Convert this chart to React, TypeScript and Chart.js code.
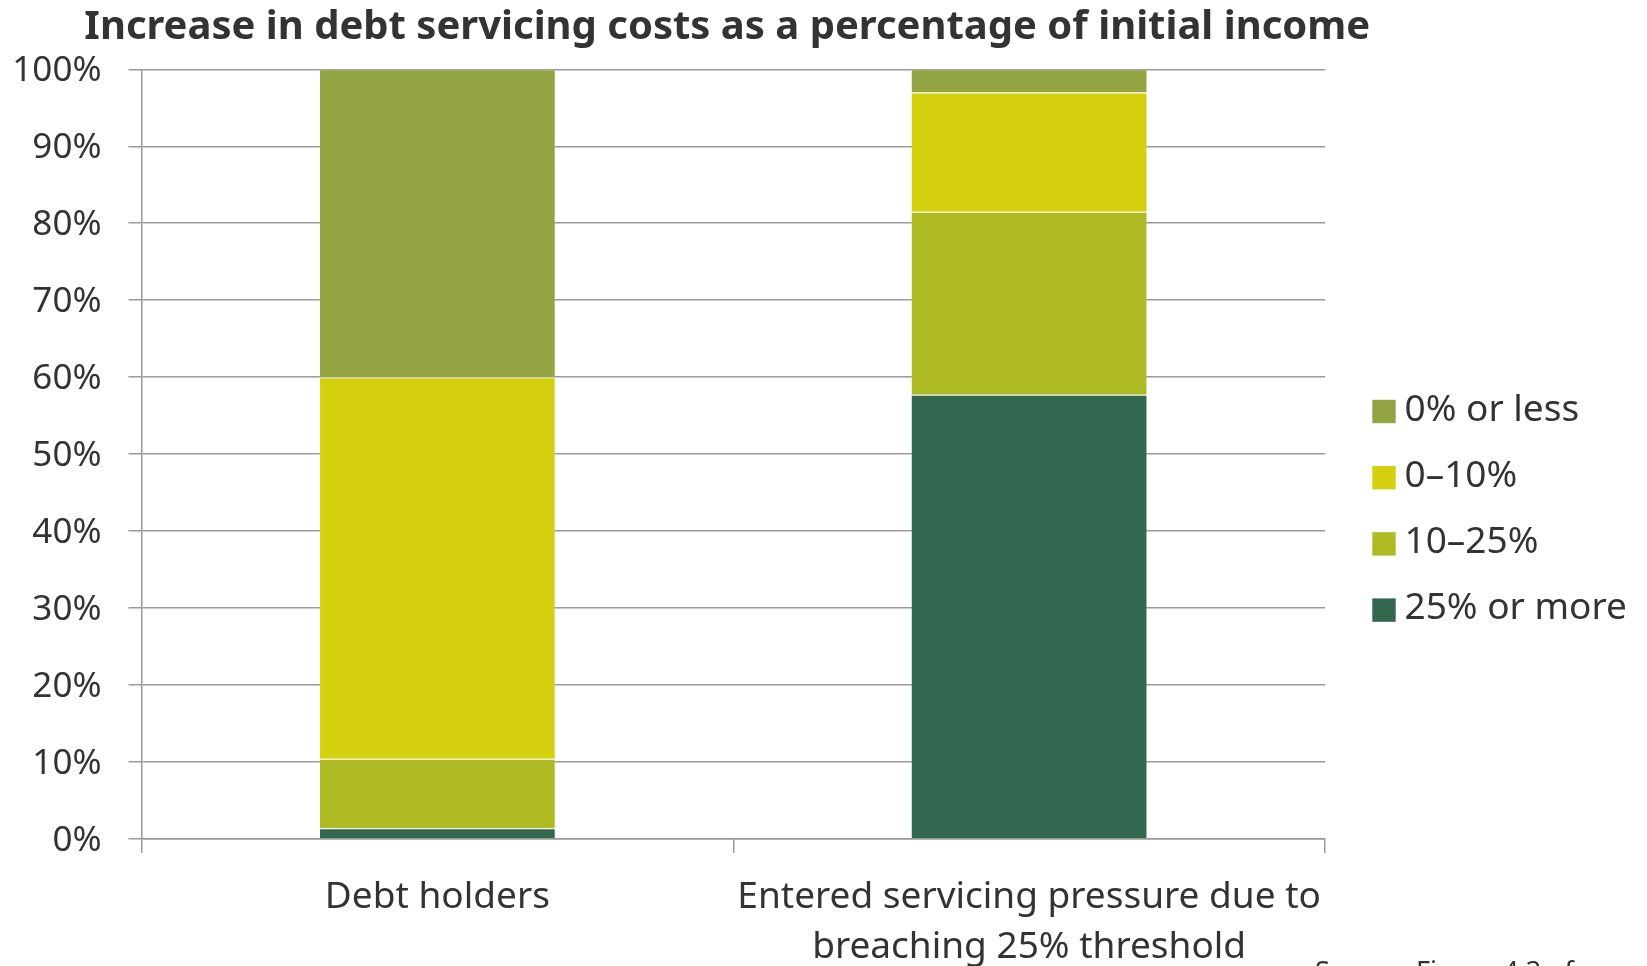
import React, { useEffect, useRef } from "react";
import { Chart, registerables } from "chart.js";

Chart.register(...registerables);

const TITLE = "Increase in debt servicing costs as a percentage of initial income";
const SOURCE_NOTE = "Source: Figure 4.3 of";

const categories = [
  "Debt holders",
  ["Entered servicing pressure due to", "breaching 25% threshold"],
];

// stacked bottom -> top
const seriesLabels = ["25% or more", "10–25%", "0–10%", "0% or less"];
const over25 = [1.4, 57.7];
const from10to25 = [9.0, 23.8];
const from0to10 = [49.6, 15.5];
const zeroOrLess = [40.0, 3.0];
const seriesColors = ["#336750", "#AFBB22", "#D4D00E", "#93A443"];

const yMin = 0;
const yMax = 100;
const yStep = 10;

const FONT = "'Noto Sans', sans-serif";
const TEXT = "#333333";
const GRID = "#9a9a9a";

// chart title, centred over the plot area
const titlePlugin = {
  id: "plotTitle",
  afterDraw(chart: any) {
    const { ctx, chartArea } = chart;
    ctx.save();
    ctx.font = `bold 40px ${FONT}`;
    ctx.fillStyle = TEXT;
    ctx.textAlign = "center";
    ctx.textBaseline = "alphabetic";
    ctx.fillText(TITLE, (chartArea.left + chartArea.right) / 2 - 6, 31);
    ctx.restore();
  },
};

const sourceNotePlugin = {
  id: "sourceNote",
  afterDraw(chart: any) {
    const { ctx, chartArea } = chart;
    ctx.save();
    ctx.font = `27px ${FONT}`;
    ctx.fillStyle = TEXT;
    ctx.textAlign = "left";
    ctx.textBaseline = "alphabetic";
    ctx.fillText(SOURCE_NOTE, chartArea.right - 10, chart.height - 27);
    ctx.restore();
  },
};

// legend drawn to the right of the plot, top row = top of stack
const sideLegendPlugin = {
  id: "sideLegend",
  afterDraw(chart: any) {
    const { ctx, chartArea } = chart;
    const datasets = chart.data.datasets.slice().reverse();
    const boxSize = 23.4;
    const boxX = chartArea.right + 47.3;
    const textX = boxX + 32.2;
    const firstRowY = 403.5;
    const rowGap = 66.2;
    ctx.save();
    ctx.font = `37px ${FONT}`;
    ctx.textAlign = "left";
    ctx.textBaseline = "middle";
    datasets.forEach((ds: any, i: number) => {
      const cy = firstRowY + i * rowGap;
      ctx.fillStyle = ds.backgroundColor;
      ctx.fillRect(boxX, cy - boxSize / 2, boxSize, boxSize);
      ctx.fillStyle = TEXT;
      ctx.fillText(ds.label, textX, cy - 1.5);
    });
    ctx.restore();
  },
};

export default function App() {
  const canvasRef = useRef<HTMLCanvasElement | null>(null);

  useEffect(() => {
    document.documentElement.style.overflow = "hidden";
    document.body.style.overflow = "hidden";
    const values = [over25, from10to25, from0to10, zeroOrLess];
    const chart = new Chart(canvasRef.current as HTMLCanvasElement, {
      type: "bar",
      data: {
        labels: categories as any,
        datasets: seriesLabels.map((label, i) => ({
          label,
          data: values[i],
          backgroundColor: seriesColors[i],
          borderColor: "rgba(255,255,255,0.18)",
          borderWidth: 1,
          barPercentage: 0.4,
          categoryPercentage: 1.0,
        })),
      },
      options: {
        animation: false,
        responsive: true,
        maintainAspectRatio: false,
        layout: { padding: { left: 0, right: 314, top: 61.3, bottom: 16.3 } },
        plugins: {
          title: { display: false },
          legend: { display: false },
          tooltip: { enabled: false },
        },
        scales: {
          x: {
            stacked: true,
            grid: {
              display: true,
              drawOnChartArea: false,
              drawTicks: true,
              tickLength: 14,
              color: GRID,
              lineWidth: 1.5,
              offset: true,
            },
            border: { display: true, color: GRID, width: 1.5 },
            ticks: {
              color: TEXT,
              font: { family: FONT, size: 37, lineHeight: 1.335 },
              padding: 20,
              maxRotation: 0,
              autoSkip: false,
            },
          },
          y: {
            stacked: true,
            min: yMin,
            max: yMax,
            ticks: {
              stepSize: yStep,
              color: TEXT,
              font: { family: FONT, size: 35 },
              padding: 27,
              labelOffset: 2,
              callback: (v: any) => `${v}%`,
            },
            grid: { color: GRID, lineWidth: 1.5, tickLength: 13 },
            border: { display: true, color: GRID, width: 1.5 },
            afterFit: (s: any) => {
              s.width = 133.5;
            },
          },
        },
      } as any,
      plugins: [titlePlugin, sourceNotePlugin, sideLegendPlugin],
    });
    return () => chart.destroy();
  }, []);

  return (
    <div style={{ position: "relative", width: 1631, height: 1000 }}>
      <canvas ref={canvasRef} />
    </div>
  );
}
